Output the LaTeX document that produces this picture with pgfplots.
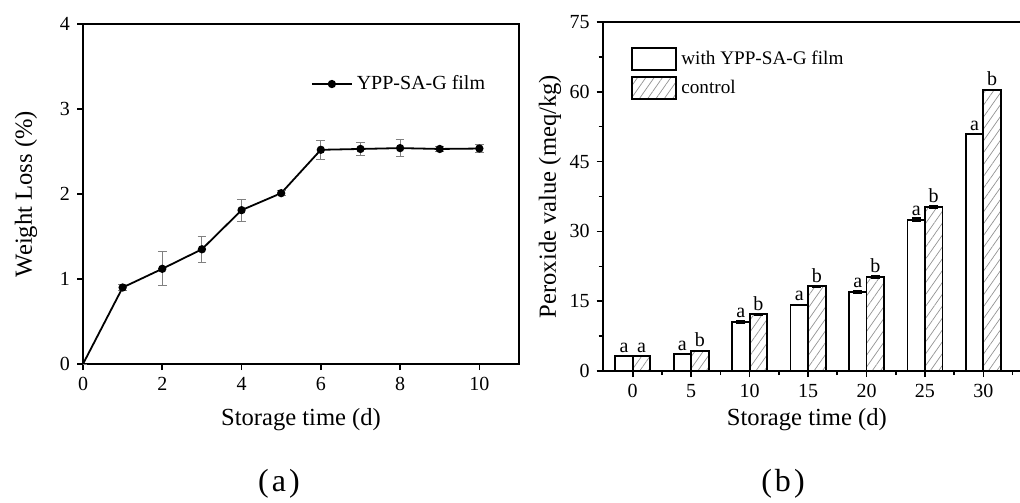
\documentclass[border=0pt]{standalone}
\usepackage{fontspec}
\setmainfont{Liberation Serif}
\usepackage{pgfplots}
\pgfplotsset{compat=1.18}
\usepackage{pgfplotstable}
\usetikzlibrary{patterns.meta}

% peroxide value, x y err label
\pgfplotstableread{
x  y    e    lab
0  3.2  0.10 a
5  3.6  0.10 a
10 10.6 0.30 a
15 14.2 0.15 a
20 17.0 0.25 a
25 32.5 0.40 a
30 50.9 0.15 a
}\filmdata
\pgfplotstableread{
x  y    e    lab
0  3.2  0.10 a
5  4.3  0.10 b
10 12.2 0.15 b
15 18.2 0.15 b
20 20.2 0.20 b
25 35.3 0.30 b
30 60.4 0.15 b
}\controldata

\pgfplotsset{
  boxlegend/.style={legend image code/.code={%
    \draw[##1,line width=1pt] (0pt,-5.5pt) rectangle (22pt,5.5pt);}},
  linelegend/.style={legend image code/.code={%
    \draw[##1, mark=none] (0pt,0pt) -- (20pt,0pt);
    \draw[##1, mark indices={1}, only marks] plot coordinates {(10pt,0pt)};}},
}

\begin{document}
\begin{tikzpicture}
  \pgfplotsset{
    every axis/.append style={
      scale only axis,
      axis line style={line width=1pt},
      tick style={black, line width=0.8pt},
      tick align=outside,
      xtick pos=left, ytick pos=left,
      major tick length=3pt,
      minor tick length=2pt,
      tick label style={font=\fontsize{10}{12}\selectfont},
      label style={font=\fontsize{12.3}{14}\selectfont},
      /pgf/number format/assume math mode=true,
    },
  }
  % (a) weight loss
  \begin{axis}[
      at={(41.5pt,-182pt)}, anchor=south west,
      width=218pt, height=170pt,
      xmin=0, xmax=11, ymin=0, ymax=4,
      xtick={0,2,...,10}, ytick={0,1,...,4},
      xlabel={Storage time (d)},
      ylabel={Weight Loss (\%)},
      xlabel style={at={(axis description cs:0.5,0)}, anchor=center, yshift=-28pt},
      ylabel style={at={(axis description cs:-0.1307,0.5)}, anchor=center},
      legend style={draw=none, fill=none, at={(axis description cs:0.522,0.8235)},
        anchor=west, inner sep=0pt, font=\fontsize{10}{12}\selectfont},
    ]
    \addplot[black, line width=0.9pt, mark=*, mark size=1.6pt, linelegend,
      mark indices={2,3,4,5,6,7,8,9,10,11},
      error bars/.cd, y dir=both, y explicit,
      error bar style={gray, line width=0.5pt},
      error mark options={rotate=90, mark size=2.2pt, gray, line width=0.5pt}]
      coordinates {
      (0,0) +- (0,0)
      (1,0.90) +- (0,0.03)
      (2,1.12) +- (0,0.20)
      (3,1.35) +- (0,0.15)
      (4,1.81) +- (0,0.13)
      (5,2.01) +- (0,0.03)
      (6,2.52) +- (0,0.11)
      (7,2.53) +- (0,0.08)
      (8,2.54) +- (0,0.10)
      (9,2.53) +- (0,0.03)
      (10,2.535) +- (0,0.05)
    };
    \legend{YPP-SA-G film}
  \end{axis}

  % (b) peroxide value
  \begin{axis}[
      at={(301.35pt,-185.5pt)}, anchor=south west,
      width=210.5pt, height=174.5pt,
      xmin=-2.57, xmax=33.45, ymin=0, ymax=75,
      xtick={0,5,...,30}, ytick={0,15,...,75},
      minor xtick={2.5,7.5,...,32.5},
      minor ytick={7.5,22.5,...,67.5},
      ybar, bar width=1.5,
      xlabel={Storage time (d)},
      ylabel={Peroxide value (meq/kg)},
      xlabel style={at={(axis description cs:0.485,0)}, anchor=center, yshift=-24.5pt},
      ylabel style={at={(axis description cs:-0.125,0.5)}, anchor=center},
      legend style={draw=none, fill=none, at={(axis description cs:0.067,0.929)},
        anchor=north west, inner sep=0pt, row sep=2pt,
        cells={anchor=west},
        font=\fontsize{9.6}{11}\selectfont},
      point meta=explicit symbolic,
      nodes near coords,
      every node near coord/.append style={font=\fontsize{10}{12}\selectfont,
        black, inner sep=1.5pt},
    ]
    \addplot[draw=black, line width=0.9pt, fill=white, bar shift=-0.75, boxlegend,
      error bars/.cd, y dir=both, y explicit,
      error bar style={black, line width=0.6pt},
      error mark options={rotate=90, mark size=2.2pt, black, line width=0.6pt}]
      table[x=x, y=y, y error=e, meta=lab] {\filmdata};
    \addplot[draw=black, line width=0.9pt, fill=white,
      postaction={pattern={Lines[angle=55, distance=3.4pt, line width=0.35pt]}, pattern color=gray!85},
      bar shift=0.75, boxlegend,
      error bars/.cd, y dir=both, y explicit,
      error bar style={black, line width=0.6pt},
      error mark options={rotate=90, mark size=2.2pt, black, line width=0.6pt}]
      table[x=x, y=y, y error=e, meta=lab] {\controldata};
    \legend{with YPP-SA-G film, control}
  \end{axis}

  \node[anchor=base, font=\fontsize{16}{18}\selectfont] at (139.5pt,-245.5pt) {(\kern1.5pt a\kern1.5pt)};
  \node[anchor=base, font=\fontsize{16}{18}\selectfont] at (391.5pt,-245.5pt) {(\kern1.5pt b\kern1.5pt)};

  \pgfresetboundingbox
  \useasboundingbox (0pt,0pt) rectangle (510pt,-251pt);
\end{tikzpicture}
\end{document}
